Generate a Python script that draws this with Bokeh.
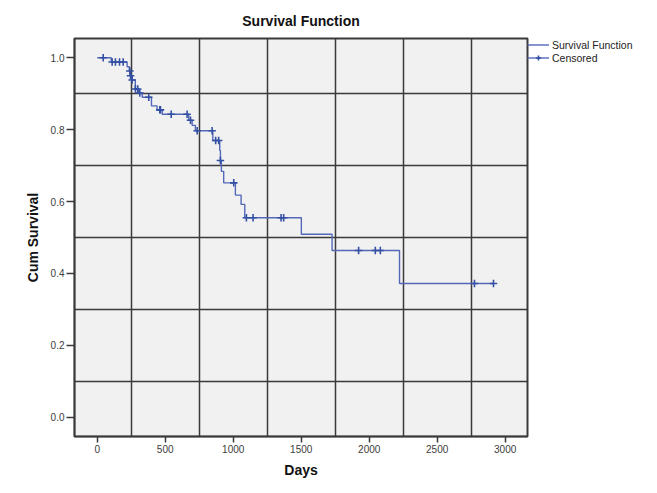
import numpy as np
from bokeh.plotting import figure
from bokeh.models import FixedTicker, Legend, LegendItem, Range1d, NumeralTickFormatter
from bokeh.embed import file_html
from bokeh.resources import INLINE

# Kaplan-Meier step data (day of event, survival after event)
event_days = [0, 103, 220, 236, 244, 256, 280, 305, 331, 399, 440, 478, 673, 698,
              722, 850, 901, 906, 913, 930, 1016, 1058, 1085, 1501, 1727, 2223]
survival = [1.0, 0.988, 0.975, 0.963, 0.950, 0.938, 0.913, 0.902, 0.890, 0.866,
            0.855, 0.843, 0.826, 0.812, 0.797, 0.770, 0.742, 0.714, 0.684, 0.652,
            0.618, 0.592, 0.555, 0.509, 0.464, 0.372]
# censored observations (days)
censored_days = [44, 110, 134, 164, 191, 240, 245, 257, 281, 298, 313, 379, 460, 465,
                 544, 661, 686, 735, 845, 871, 893, 906, 1004, 1097, 1146, 1352, 1371,
                 1922, 2045, 2082, 2774, 2914]

x_ticks = [0, 500, 1000, 1500, 2000, 2500, 3000]
y_ticks = [0.0, 0.2, 0.4, 0.6, 0.8, 1.0]
x_grid = [250, 750, 1250, 1750, 2250, 2750]
y_grid = [0.1, 0.3, 0.5, 0.7, 0.9]

FONT = "Liberation Sans"

p = figure(frame_width=453, frame_height=398, output_backend="svg", toolbar_location=None,
           x_range=Range1d(-167, 3164), y_range=Range1d(-0.0535, 1.0535),
           min_border_left=74, min_border_right=0, min_border_top=37,
           min_border_bottom=42, title="Survival Function")

p.background_fill_color = "#f1f1f1"
p.border_fill_color = "white"
p.outline_line_color = "#3a3a3a"
p.outline_line_width = 2

p.title.align = "center"
p.title.text_font = FONT
p.title.text_font_size = "14px"
p.title.text_font_style = "bold"
p.title.text_color = "#111111"
p.title.standoff = 20

p.xgrid.ticker = FixedTicker(ticks=x_grid)
p.ygrid.ticker = FixedTicker(ticks=y_grid)
for g in (p.xgrid, p.ygrid):
    g.grid_line_color = "#3a3a3a"
    g.grid_line_width = 1.5
    g.grid_line_alpha = 1.0

p.xaxis.ticker = FixedTicker(ticks=x_ticks)
p.yaxis.ticker = FixedTicker(ticks=y_ticks)
p.yaxis.formatter = NumeralTickFormatter(format="0.0")
for ax in (p.xaxis, p.yaxis):
    ax.axis_line_color = "#3a3a3a"
    ax.axis_line_width = 1.5
    ax.major_tick_line_color = "#3a3a3a"
    ax.major_tick_line_width = 1.5
    ax.major_tick_in = 0
    ax.minor_tick_line_color = None
    ax.major_label_text_font = FONT
    ax.major_label_text_font_size = "10px"
    ax.major_label_text_color = "#3c3c3c"
    ax.axis_label_text_font = FONT
    ax.axis_label_text_font_size = "14px"
    ax.axis_label_text_font_style = "bold"
    ax.axis_label_text_color = "#111111"
p.xaxis.major_tick_out = 6
p.yaxis.major_tick_out = 8
p.xaxis.major_label_standoff = 2
p.yaxis.major_label_standoff = 2
p.xaxis.axis_label = "Days"
p.yaxis.axis_label = "Cum Survival"
p.xaxis.axis_label_standoff = 6
p.yaxis.axis_label_standoff = 7

# step curve extended to the last follow-up
step_x = list(event_days) + [max(censored_days)]
step_y = list(survival) + [survival[-1]]
line_r = p.step(step_x, step_y, mode="after", line_color="#5468b8", line_width=1.4)

idx = np.searchsorted(np.array(event_days), np.array(censored_days), side="right") - 1
cens_y = [survival[i] for i in idx]
cross_r = p.scatter(censored_days, cens_y, marker="cross", size=7.5,
                    line_color="#3450a4", line_width=1.6)

legend = Legend(items=[LegendItem(label="Survival Function", renderers=[line_r]),
                       LegendItem(label="Censored", renderers=[line_r, cross_r])],
                location="top_left", orientation="vertical",
                padding=0, margin=0, spacing=0, border_line_color=None,
                background_fill_alpha=0, glyph_width=22, glyph_height=13,
                label_height=13, label_standoff=3,
                label_text_font=FONT, label_text_font_size="10.5px",
                label_text_color="#222222")
p.add_layout(legend, "right")

open("out.html", "w").write(file_html(p, INLINE))
